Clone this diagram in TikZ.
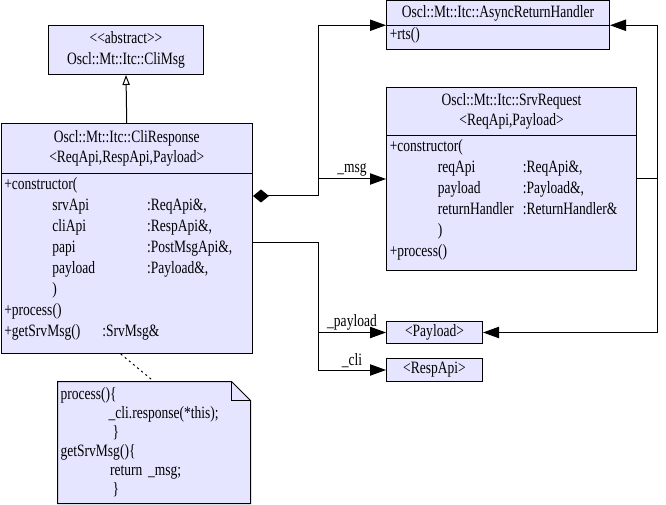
\documentclass[tikz,border=0pt]{standalone}
\usepackage{fontspec}
\setmainfont[FakeStretch=0.78]{Liberation Serif}
\usetikzlibrary{arrows.meta, positioning}
\newcommand{\paramrow}[3]{\hspace*{36pt}\makebox[#1][l]{#2}#3}

\begin{document}
\begin{tikzpicture}[x=0.75pt, y=-0.75pt, line width=0.75pt,
    every node/.style={font=\fontsize{13}{15.5}\selectfont},
    classbox/.style={draw, fill=classbg, anchor=north west, inner sep=0pt},
    classhead/.style={draw, fill=classbg, anchor=north west, align=center, inner sep=1pt},
    members/.style={anchor=north west, align=left, inner xsep=2.5pt, inner ysep=2pt,
      font=\fontsize{13}{15.75}\selectfont},
    nav/.style={-{Triangle[length=12pt, width=8.5pt]}},
    lbl/.style={above, inner sep=1.5pt}]
  \colorlet{classbg}{blue!10}
  \useasboundingbox (0,0) rectangle (666,505);

  \node[classhead, minimum width=116.25pt, minimum height=36.75pt] (climsg) at (48,25)
    {<{}<abstract>{}>\\Oscl::Mt::Itc::CliMsg};

  \node[classbox, minimum width=188.6pt, minimum height=172.5pt] (cliresp) at (0.5,123) {};
  \node[classhead, minimum width=188.6pt, minimum height=37.5pt] (crhead) at (cliresp.north west)
    {Oscl::Mt::Itc::CliResponse\\<ReqApi,RespApi,Payload>};
  \node[members] (crops) at (crhead.south west)
    {+constructor(\\
     \paramrow{71pt}{srvApi}{:ReqApi\&,}\\
     \paramrow{71pt}{cliApi}{:RespApi\&,}\\
     \paramrow{71pt}{papi}{:PostMsgApi\&,}\\
     \paramrow{71pt}{payload}{:Payload\&,}\\
     \hspace*{36pt})\\
     +process()\\
     \makebox[73.5pt][l]{+getSrvMsg()}:SrvMsg\&};

  \node[classbox, minimum width=167.25pt, minimum height=36.4pt] (async) at (386,0.5) {};
  \node[classhead, minimum width=167.25pt, minimum height=18.4pt] (ashead) at (async.north west)
    {Oscl::Mt::Itc::AsyncReturnHandler};
  \node[members, inner ysep=1pt] (asops) at (ashead.south west) {+rts()};

  \node[classbox, minimum width=187.5pt, minimum height=137.25pt] (srv) at (386,87) {};
  \node[classhead, minimum width=187.5pt, minimum height=36pt] (srvhead) at (srv.north west)
    {Oscl::Mt::Itc::SrvRequest\\<ReqApi,Payload>};
  \node[members] (srvops) at (srvhead.south west)
    {+constructor(\\
     \paramrow{63.75pt}{reqApi}{:ReqApi\&,}\\
     \paramrow{63.75pt}{payload}{:Payload\&,}\\
     \paramrow{63.75pt}{returnHandler}{:ReturnHandler\&}\\
     \hspace*{36pt})\\
     +process()};

  \node[classhead, minimum width=72pt, minimum height=16.5pt] (payload) at (386,321) {<Payload>};
  \node[classhead, minimum width=72pt, minimum height=17.25pt] (respapi) at (386,358) {<RespApi>};

  \node[minimum width=144pt, minimum height=90.75pt, inner sep=0pt] (note) at (154,442.5) {};
  \filldraw[fill=classbg] (note.north west) -- ([xshift=-14.25pt]note.north east)
    -- ([yshift=-14.25pt]note.north east) -- (note.south east) -- (note.south west) -- cycle;
  \draw ([xshift=-14.25pt]note.north east) |- ([yshift=-14.25pt]note.north east);
  \node[text width=140pt, align=left, inner sep=0pt,
    font=\fontsize{13}{14.25}\selectfont] (notetext) at (note.center)
    {process()\{\\
     \hspace*{36pt}\_cli.response(*this);\\
     \hspace*{39pt}\}\\
     getSrvMsg()\{\\
     \hspace*{37pt}return \_msg;\\
     \hspace*{39pt}\}};
  \draw[dash pattern=on 1.5pt off 2.5pt] ([xshift=-4.5pt]cliresp.south) -- (note.north);

  \draw[-{Triangle[open, length=7.5pt, width=5.5pt]}] (crhead.north) -- (climsg.south);

  \coordinate (jmsg) at (318,196);
  \coordinate (jdata) at (318,243);
  \coordinate (rail) at (657,0);
  \draw[{Diamond[length=12pt, width=9.75pt]}-{Triangle[length=12pt, width=8.5pt]}]
    (cliresp.east |- jmsg) -- (jmsg) |- (async.west);
  \draw[nav] (jmsg |- srv.west) -- node[lbl] {\_msg} (srv.west);
  \draw[nav] (cliresp.east |- jdata) -- (jdata) -- (jdata |- respapi.west)
    -- node[lbl] {\_cli} (respapi.west);
  \draw[nav] (jdata |- payload.west) -- node[lbl] {\_payload} (payload.west);
  \draw[nav] (srv.east) -- (srv.east -| rail) |- (async.east);
  \draw[nav] (srv.east -| rail) |- (payload.east);
\end{tikzpicture}
\end{document}
